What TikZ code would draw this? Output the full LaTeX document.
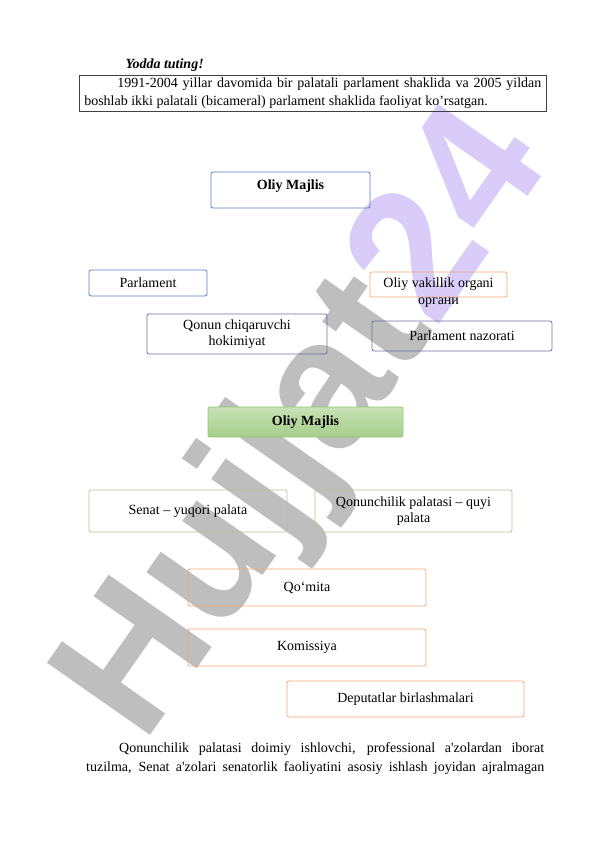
\documentclass[tikz,border=0pt]{standalone}
\usepackage{fontspec}
\setmainfont{Liberation Serif}
\newfontfamily\wmfont{Liberation Sans}
\usetikzlibrary{positioning}

\definecolor{boxblue}{RGB}{91,125,190}
\definecolor{boxorange}{RGB}{242,170,120}
\definecolor{boxpurple}{RGB}{112,112,165}
\definecolor{boxkhaki}{RGB}{190,190,150}
\definecolor{greentop}{RGB}{200,226,182}
\definecolor{greenbot}{RGB}{166,206,138}
\definecolor{greenline}{RGB}{150,196,120}
\definecolor{wmgray}{RGB}{190,190,190}
\definecolor{wmlav}{RGB}{218,204,248}

\tikzset{
  txt/.style={font=\fontsize{14}{16}\selectfont},
  boldtxt/.style={font=\fontsize{14}{16}\selectfont\bfseries},
  cell/.style={draw=#1, rounded corners=2pt, line width=0.8pt, align=center,
    inner sep=0pt, outer sep=0pt, txt},
}

\begin{document}
\begin{tikzpicture}[x=1pt,y=-1pt]
\useasboundingbox (0,0) rectangle (596,842);

% watermark
\node[rotate=55, inner sep=0pt, text=wmgray,
  font=\wmfont\bfseries\fontsize{183}{183}\selectfont] (wm) at (309,427)
  {Hujjat\textcolor{wmlav}{24}};

% eslatma
\node[anchor=base west, font=\fontsize{14}{18}\selectfont\bfseries\itshape] (yodda) at (122,69) {Yodda tuting!};
\node[draw=black!75, line width=0.6pt, anchor=north west, text width=457pt, align=justify,
  inner xsep=5pt, inner ysep=2.5pt, font=\fontsize{14}{18}\selectfont] (note) at (79,75)
  {\hspace*{33pt}1991-2004 yillar davomida bir palatali parlament shaklida va 2005 yildan\linebreak
   boshlab ikki palatali (bicameral) parlament shaklida faoliyat ko’rsatgan.};

% birinchi sxema
\node[cell=boxblue, minimum width=159, minimum height=36] (majlis) at (290.5,190) {};
\node[boldtxt, anchor=base] (majlisname) at ([yshift=-17.5pt]majlis.north) {Oliy Majlis};
\node[cell=boxblue, minimum width=118, minimum height=26] (parl) at (148,283) {Parlament};
\node[cell=boxorange, minimum width=137, minimum height=25] (vakil) at (438.5,284.5) {Oliy vakillik organi};
\node[txt, anchor=base] (organ) at ([yshift=-7pt]vakil.south) {органи};
\node[cell=boxpurple, minimum width=180, minimum height=40] (qonun) at (237,334) {Qonun chiqaruvchi\\hokimiyat};
\node[cell=boxpurple, minimum width=180, minimum height=30] (nazorat) at (462,336) {Parlament nazorati};

% ikkinchi sxema
\node[cell=greenline, top color=greentop, bottom color=greenbot, boldtxt,
  minimum width=195, minimum height=30] (majlis2) at (305.5,422) {Oliy Majlis};
\node[cell=boxkhaki, minimum width=198, minimum height=42] (senat) at (188,511) {Senat – yuqori palata};
\node[cell=boxkhaki, minimum width=197, minimum height=42] (quyi) at (413.5,511) {Qonunchilik palatasi – quyi\\palata};
\node[cell=boxorange, minimum width=238, minimum height=37] (qomita) at (307,587.5) {Qo‘mita};
\node[cell=boxorange, minimum width=238, minimum height=37] (komissiya) at (307,647.5) {Komissiya};
\node[cell=boxorange, minimum width=237, minimum height=36] (deputat) at (405.5,699) {Deputatlar birlashmalari};

% matn
\node[anchor=north west, text width=458pt, align=justify, inner sep=0pt, font=\fontsize{14}{19}\selectfont] (para) at (86,742)
  {\hspace*{33pt}Qonunchilik palatasi doimiy ishlovchi, professional a\textquotesingle zolardan iborat\linebreak
   \makebox[458pt][s]{tuzilma, Senat a\textquotesingle zolari senatorlik faoliyatini asosiy ishlash joyidan ajralmagan}};
\end{tikzpicture}
\end{document}
